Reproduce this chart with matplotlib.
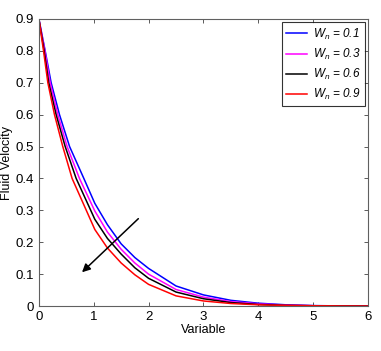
import matplotlib
matplotlib.use("Agg")
import matplotlib.pyplot as plt

plt.rcParams['font.family'] = ['Liberation Sans', 'DejaVu Sans']
plt.rcParams['mathtext.fontset'] = 'custom'
plt.rcParams['mathtext.it'] = 'Liberation Sans:italic'
plt.rcParams['mathtext.rm'] = 'Liberation Sans'

# data
x_w01 = [0, 0.115, 0.224, 0.376, 0.56, 0.82, 1.02, 1.25, 1.5, 1.75, 2.0, 2.5, 3.0, 3.5, 4.0, 4.5, 5.0, 5.5, 6.0]
y_w01 = [0.9, 0.8, 0.7, 0.6, 0.5, 0.4, 0.322, 0.255, 0.195, 0.152, 0.118, 0.063, 0.035, 0.018, 0.009, 0.004, 0.0015, 0.0005, 0.0]
x_w03 = [0, 0.11, 0.206, 0.345, 0.515, 0.74, 1.02, 1.25, 1.5, 1.75, 2.0, 2.5, 3.0, 3.5, 4.0, 4.5, 5.0, 5.5, 6.0]
y_w03 = [0.9, 0.8, 0.7, 0.6, 0.5, 0.4, 0.298, 0.232, 0.178, 0.135, 0.1, 0.052, 0.028, 0.014, 0.007, 0.003, 0.001, 0.0004, 0.0]
x_w06 = [0, 0.097, 0.18, 0.315, 0.48, 0.68, 1.02, 1.25, 1.5, 1.75, 2.0, 2.5, 3.0, 3.5, 4.0, 4.5, 5.0, 5.5, 6.0]
y_w06 = [0.9, 0.8, 0.7, 0.6, 0.5, 0.4, 0.272, 0.212, 0.163, 0.12, 0.087, 0.044, 0.023, 0.011, 0.005, 0.002, 0.001, 0.0003, 0.0]
x_w09 = [0, 0.085, 0.164, 0.285, 0.436, 0.606, 1.02, 1.25, 1.5, 1.75, 2.0, 2.5, 3.0, 3.5, 4.0, 4.5, 5.0, 5.5, 6.0]
y_w09 = [0.9, 0.8, 0.7, 0.6, 0.5, 0.4, 0.24, 0.182, 0.135, 0.098, 0.068, 0.032, 0.016, 0.008, 0.004, 0.002, 0.001, 0.0003, 0.0]
labels = ['0.1', '0.3', '0.6', '0.9']
colors = ['#0000ff', '#ff00ff', '#000000', '#ff0000']

fig = plt.figure(figsize=(3.81, 3.51), dpi=100)
ax = fig.add_axes([0.102, 0.128, 0.864, 0.818])

series = [(x_w01, y_w01), (x_w03, y_w03), (x_w06, y_w06), (x_w09, y_w09)]
for (xs, ys), lab, c in zip(series, labels, colors):
    ax.plot(xs, ys, color=c, lw=1.1, label=r'$W_n$ = ' + lab)

ax.set_xlim(0, 6)
ax.set_ylim(0, 0.9)
ax.set_xticks(range(0, 7))
ax.set_xticklabels([str(v) for v in range(0, 7)])
ax.set_yticks([i / 10 for i in range(0, 10)])
ax.set_yticklabels(['0'] + ['0.%d' % i for i in range(1, 10)])
ax.tick_params(direction='in', top=True, right=True, labelsize=9.5, length=3, width=0.6, colors='#404040', labelcolor='black')
for s in ax.spines.values():
    s.set_color('#606060')
    s.set_linewidth(0.8)

ax.set_xlabel('Variable', fontsize=9, labelpad=1)
ax.set_ylabel('Fluid Velocity', fontsize=9, labelpad=2)

ax.annotate('', xy=(0.75, 0.1), xytext=(1.85, 0.28),
            arrowprops=dict(arrowstyle='-|>', color='black', lw=1.1, mutation_scale=12))

leg = ax.legend(loc='upper right', frameon=True, fancybox=False,
                edgecolor='black', borderaxespad=0.3, handlelength=1.8,
                labelspacing=0.42, borderpad=0.35, handletextpad=0.45,
                prop={'style': 'italic', 'size': 8.5})
leg.get_frame().set_linewidth(0.8)

fig.savefig('out.png', dpi=100, facecolor='white')
